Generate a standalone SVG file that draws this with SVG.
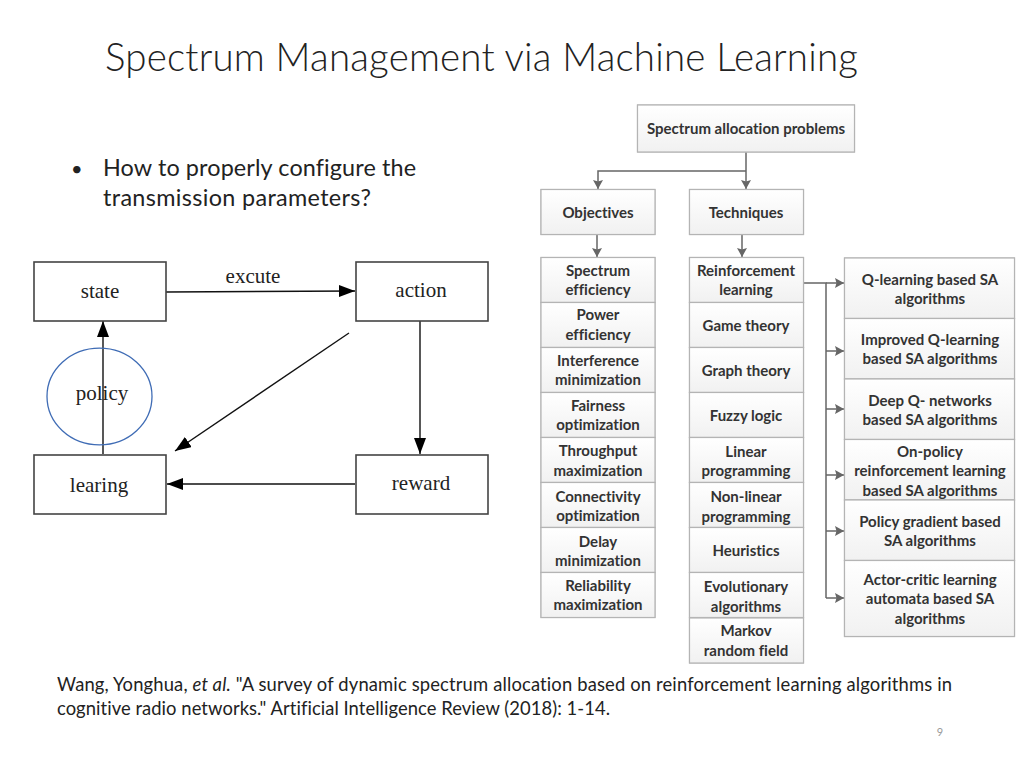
<svg xmlns="http://www.w3.org/2000/svg" width="1024" height="768" viewBox="0 0 1024 768">
<defs>
<linearGradient id="g" x1="0" y1="0" x2="0" y2="1"><stop offset="0" stop-color="#ffffff"/><stop offset="1" stop-color="#f1f1f1"/></linearGradient>
<marker id="ga" markerUnits="userSpaceOnUse" markerWidth="10" markerHeight="12" refX="9" refY="5" orient="auto"><path d="M0 0L9 5L0 10L1.5 5Z" fill="#666"/></marker>
<marker id="ka" markerUnits="userSpaceOnUse" markerWidth="17" markerHeight="13" refX="16" refY="6" orient="auto"><path d="M0 0L16 6L0 12Z" fill="#000"/></marker>
</defs>
<style>
text{font-family:Lato,"Open Sans",sans-serif;text-anchor:middle;font-variant-ligatures:none}
.t{font-size:38.5px;fill:#222;text-anchor:start;font-weight:300}
.b{font-size:23.4px;fill:#222;text-anchor:start}
.c{font-size:18.4px;fill:#222;text-anchor:start}
.n{font-size:11px;fill:#999}
.h rect{fill:url(#g);stroke:#b4b4b4;stroke-width:1.2;filter:drop-shadow(0.7px 0.7px 0.7px #bbb)}
.h text{font-size:15px;font-weight:700;fill:#333;transform:translateY(.6px)}
.f rect{fill:#fff;stroke:#444;stroke-width:1.6}
.f text{font-family:"Liberation Serif",serif;font-size:21px;fill:#222}
.gc{fill:none;stroke:#666;stroke-width:1.5;marker-end:url(#ga)}
.gl{fill:none;stroke:#666;stroke-width:1.5}
.kc{fill:none;stroke:#111;stroke-width:1.4;marker-end:url(#ka)}
</style>
<rect width="1024" height="768" fill="#fff"/>
<text class="t" x="105" y="71" textLength="753">Spectrum Management via Machine Learning</text>
<text class="b" x="71" y="176" style="font-size:20px">•</text>
<text class="b" x="103" y="175.500" textLength="313">How to properly configure the</text>
<text class="b" x="103" y="205.500" textLength="268">transmission parameters?</text>

<g id="connectors">
<path class="gc" d="M746 152V189"/>
<path class="gc" d="M746 171H598V189"/>
<path class="gc" d="M597 235V257"/>
<path class="gc" d="M742 235V257"/>
<path class="gl" d="M803 283H826V598"/>
<path class="gc" d="M826 283H844"/>
<path class="gc" d="M826 351H844"/>
<path class="gc" d="M826 409H844"/>
<path class="gc" d="M826 475H844"/>
<path class="gc" d="M826 531H844"/>
<path class="gc" d="M826 598H844"/>
<path class="kc" d="M166 292L355 291"/>
<path class="kc" d="M420 321V454"/>
<path class="kc" d="M355 484H167"/>
<path class="kc" d="M103 454V321"/>
<path class="kc" d="M349 333L175 451"/>
</g>

<g id="n-root" class="h"><rect x="637.500" y="105" width="217" height="47"/><text x="746" y="133">Spectrum allocation problems</text></g>
<g id="n-objectives" class="h"><rect x="541" y="189.500" width="114" height="45"/><text x="598" y="217">Objectives</text></g>
<g id="n-techniques" class="h"><rect x="689.500" y="189.500" width="114" height="45"/><text x="746" y="217">Techniques</text></g>

<g id="n-o1" class="h"><rect x="541" y="257.500" width="114" height="45"/><text x="598" y="275">Spectrum</text><text x="598" y="294">efficiency</text></g>
<g id="n-o2" class="h"><rect x="541" y="302.500" width="114" height="45"/><text x="598" y="319">Power</text><text x="598" y="339">efficiency</text></g>
<g id="n-o3" class="h"><rect x="541" y="347.500" width="114" height="45"/><text x="598" y="365">Interference</text><text x="598" y="384">minimization</text></g>
<g id="n-o4" class="h"><rect x="541" y="392.500" width="114" height="45"/><text x="598" y="410">Fairness</text><text x="598" y="429">optimization</text></g>
<g id="n-o5" class="h"><rect x="541" y="437.500" width="114" height="45"/><text x="598" y="455">Throughput</text><text x="598" y="475">maximization</text></g>
<g id="n-o6" class="h"><rect x="541" y="482.500" width="114" height="45"/><text x="598" y="501">Connectivity</text><text x="598" y="520">optimization</text></g>
<g id="n-o7" class="h"><rect x="541" y="527.500" width="114" height="45"/><text x="598" y="546">Delay</text><text x="598" y="565">minimization</text></g>
<g id="n-o8" class="h"><rect x="541" y="572.500" width="114" height="45"/><text x="598" y="590">Reliability</text><text x="598" y="609">maximization</text></g>

<g id="n-t1" class="h"><rect x="689.500" y="257.500" width="114" height="45"/><text x="746" y="275">Reinforcement</text><text x="746" y="294">learning</text></g>
<g id="n-t2" class="h"><rect x="689.500" y="302.500" width="114" height="45"/><text x="746" y="330">Game theory</text></g>
<g id="n-t3" class="h"><rect x="689.500" y="347.500" width="114" height="45"/><text x="746" y="375">Graph theory</text></g>
<g id="n-t4" class="h"><rect x="689.500" y="392.500" width="114" height="45"/><text x="746" y="420">Fuzzy logic</text></g>
<g id="n-t5" class="h"><rect x="689.500" y="437.500" width="114" height="45"/><text x="746" y="456">Linear</text><text x="746" y="475">programming</text></g>
<g id="n-t6" class="h"><rect x="689.500" y="482.500" width="114" height="45"/><text x="746" y="501">Non-linear</text><text x="746" y="521">programming</text></g>
<g id="n-t7" class="h"><rect x="689.500" y="527.500" width="114" height="45"/><text x="746" y="555">Heuristics</text></g>
<g id="n-t8" class="h"><rect x="689.500" y="572.500" width="114" height="45"/><text x="746" y="591">Evolutionary</text><text x="746" y="611">algorithms</text></g>
<g id="n-t9" class="h"><rect x="689.500" y="618" width="114" height="45"/><text x="746" y="635">Markov</text><text x="746" y="655">random field</text></g>

<g id="n-a1" class="h"><rect x="844.500" y="258" width="170" height="60.500"/><text x="930" y="284">Q-learning based SA</text><text x="930" y="303">algorithms</text></g>
<g id="n-a2" class="h"><rect x="844.500" y="318.500" width="170" height="60.500"/><text x="930" y="344">Improved Q-learning</text><text x="930" y="363">based SA algorithms</text></g>
<g id="n-a3" class="h"><rect x="844.500" y="379" width="170" height="60.500"/><text x="930" y="405">Deep Q- networks</text><text x="930" y="424">based SA algorithms</text></g>
<g id="n-a4" class="h"><rect x="844.500" y="439.500" width="170" height="60.500"/><text x="930" y="456">On-policy</text><text x="930" y="475">reinforcement learning</text><text x="930" y="495">based SA algorithms</text></g>
<g id="n-a5" class="h"><rect x="844.500" y="500" width="170" height="60.500"/><text x="930" y="526">Policy gradient based</text><text x="930" y="545">SA algorithms</text></g>
<g id="n-a6" class="h"><rect x="844.500" y="560.500" width="170" height="76"/><text x="930" y="584">Actor-critic learning</text><text x="930" y="603">automata based SA</text><text x="930" y="623">algorithms</text></g>

<g id="n-state" class="f"><rect x="34" y="262" width="132" height="59"/><text x="100" y="298">state</text></g>
<g id="n-action" class="f"><rect x="356" y="262" width="132" height="59"/><text x="421" y="297">action</text></g>
<g id="n-learing" class="f"><rect x="34" y="455" width="132" height="59"/><text x="99" y="492">learing</text></g>
<g id="n-reward" class="f"><rect x="356" y="455" width="132" height="59"/><text x="421" y="490">reward</text></g>
<g id="n-policy"><ellipse cx="99.500" cy="396.500" rx="52.500" ry="48.300" fill="none" stroke="#3f6cb5" stroke-width="1.300"/><text x="102" y="400" style="font-family:'Liberation Serif',serif;font-size:21px;fill:#222">policy</text></g>
<text x="253" y="283" style="font-family:'Liberation Serif',serif;font-size:21px;fill:#222">excute</text>

<text class="c" x="57" y="691" textLength="895">Wang, Yonghua, <tspan font-style="italic">et al.</tspan> "A survey of dynamic spectrum allocation based on reinforcement learning algorithms in</text>
<text class="c" x="57" y="715" textLength="553">cognitive radio networks." Artificial Intelligence Review (2018): 1-14.</text>
<text class="n" x="940" y="736">9</text>
</svg>
